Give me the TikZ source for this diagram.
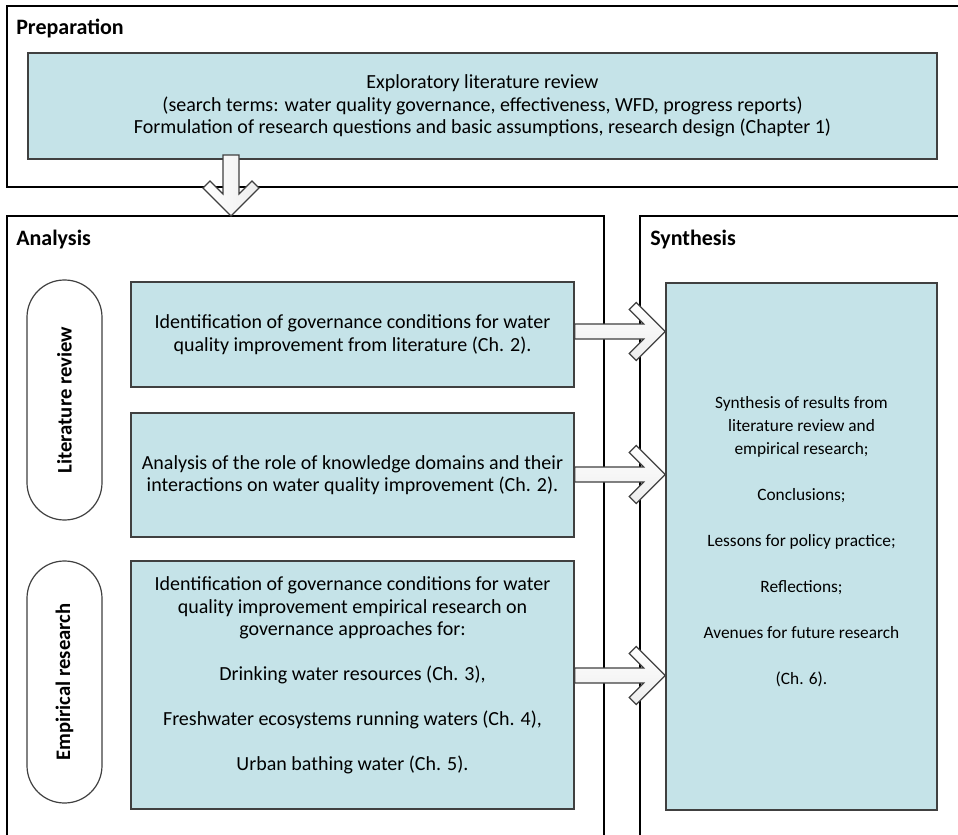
\documentclass[tikz,border=0pt]{standalone}
\usepackage{fontspec}
\setmainfont{Carlito}
\usetikzlibrary{calc}

\definecolor{boxfill}{HTML}{C5E3E8}
\definecolor{boxline}{HTML}{404040}

\tikzset{
  frame/.style={line width=1.1pt, draw=black},
  textbox/.style={draw=boxline, fill=boxfill, line width=1.1pt, inner sep=0pt,
    align=center, font=\fontsize{15}{16.9}\selectfont},
  smalltext/.style={font=\fontsize{13}{17.25}\selectfont},
  pill/.style={draw=boxline, line width=0.9pt, rounded corners=28pt, inner sep=0pt,
    minimum width=56.25pt},
  pilltext/.style={rotate=90, inner sep=0pt, font=\fontsize{15.5}{18}\bfseries\selectfont},
  title/.style={anchor=base west, inner sep=0pt, font=\fontsize{16.5}{19}\bfseries\selectfont},
  blockarrow/.style={draw=boxline, line width=0.9pt, line join=miter,
    top color=white, bottom color=gray!14},
}

% hollow block arrow pointing right: shaft starts at x of #1, tip at #2
\newcommand\rightblock[2]{%
  \path[blockarrow] let \p1=(#1), \p2=(#2) in
    (\x2,\y2) -- (\x2-21.75pt,\y2+21.75pt) -- (\x2-27pt,\y2+16.5pt)
    -- (\x2-16.125pt,\y2+5.625pt) -- (\x1,\y2+5.625pt) -- (\x1,\y2-5.625pt)
    -- (\x2-16.125pt,\y2-5.625pt) -- (\x2-27pt,\y2-16.5pt)
    -- (\x2-21.75pt,\y2-21.75pt) -- cycle;}

% hollow block arrow pointing down: shaft starts at y of #1, tip at #2
\newcommand\downblock[2]{%
  \path[blockarrow, left color=white, right color=gray!14]
    let \p1=(#1), \p2=(#2) in
    (\x2,\y2) -- (\x2-21pt,\y2+21pt) -- (\x2-15.75pt,\y2+26.25pt)
    -- (\x2-6pt,\y2+16.5pt) -- (\x2-6pt,\y1) -- (\x2+6pt,\y1)
    -- (\x2+6pt,\y2+16.5pt) -- (\x2+15.75pt,\y2+26.25pt)
    -- (\x2+21pt,\y2+21pt) -- cycle;}

\begin{document}
\begin{tikzpicture}[x=0.75pt, y=-0.75pt]
  \clip (0,0) rectangle (958,835);
  \fill[white] (0,0) rectangle (958,835);

  % stage frames
  \draw[frame] (965,6) -- (7,6) -- (7,187) -- (965,187);
  \draw[frame] (7,845) -- (7,216) -- (604,216) -- (604,845);
  \draw[frame] (640,845) -- (640,216) -- (965,216);

  \node[title] (tprep) at (16,35) {Preparation};
  \node[title] (tana)  at (16,245) {Analysis};
  \node[title] (tsyn)  at (650,245) {Synthesis};

  % preparation
  \node[textbox, minimum width=681.75pt, minimum height=79.5pt] (prep) at (482.5,106) {%
    Exploratory literature review\\
    (search terms: water quality governance, effectiveness, WFD, progress reports)\\
    Formulation of research questions and basic assumptions, research design (Chapter 1)};

  % analysis
  \node[pill, minimum height=180pt] (lit) at (64.5,400) {};
  \node[pilltext] (littext) at (lit.center) {Literature review};
  \node[pill, minimum height=181.5pt] (emp) at (64.5,682) {};
  \node[pilltext] (emptext) at (emp.center) {Empirical research};

  \node[textbox, minimum width=332.25pt, minimum height=78.75pt] (b1) at (352.5,334.5) {%
    Identification of governance conditions for water\\
    quality improvement from literature (Ch. 2).};
  \node[textbox, minimum width=332.25pt, minimum height=93pt] (b2) at (352.5,475) {%
    Analysis of the role of knowledge domains and their\\
    interactions on water quality improvement (Ch. 2).};
  \node[textbox, minimum width=332.25pt, minimum height=186pt] (b3) at (352.5,685) {%
    Identification of governance conditions for water\\
    quality improvement empirical research on\\
    governance approaches for:\\[16.9pt]
    Drinking water resources (Ch. 3),\\[16.9pt]
    Freshwater ecosystems running waters (Ch. 4),\\[16.9pt]
    Urban bathing water (Ch. 5).\\
    \mbox{}};

  % synthesis
  \node[textbox, smalltext, minimum width=203.25pt, minimum height=395.25pt] (syn) at (801.5,546.5) {%
    Synthesis of results from\\
    literature review and\\
    empirical research;\\[17.25pt]
    Conclusions;\\[17.25pt]
    Lessons for policy practice;\\[17.25pt]
    Reflections;\\[17.25pt]
    Avenues for future research\\[17.25pt]
    (Ch. 6).\rule[-9pt]{0pt}{0pt}};

  % flow arrows
  \coordinate (d1) at (231,155);
  \coordinate (d2) at (231,216);
  \downblock{d1}{d2}

  \coordinate (e1) at ($(b1.east)+(0,-3)$);
  \coordinate (e2) at ($(b2.east)+(0,-0.5)$);
  \coordinate (e3) at ($(b3.east)+(0,-9.5)$);
  \rightblock{e1}{syn.west |- e1}
  \rightblock{e2}{syn.west |- e2}
  \rightblock{e3}{syn.west |- e3}
\end{tikzpicture}
\end{document}
